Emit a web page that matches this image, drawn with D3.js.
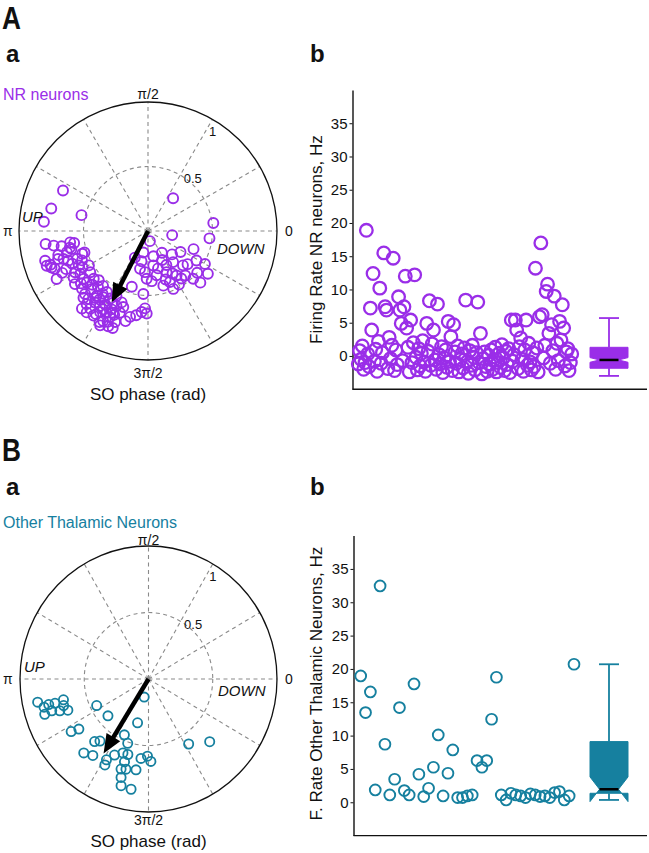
<!DOCTYPE html>
<html><head><meta charset="utf-8">
<script src="https://cdn.jsdelivr.net/npm/d3@7"></script>
<style>
body{margin:0;background:#fff}
svg{display:block}
text{font-family:"Liberation Sans",Arial,Helvetica,sans-serif;fill:#111}
</style>
</head><body>
<svg id="chart" width="649" height="853"></svg>
<script>
// ---------------- DATA ----------------
const nrColor = "#9a2ee8";
const otColor = "#16809f";

// Polar A: NR neurons, [SO phase (deg), normalized rho]
const nrPolar = [
 [154.5,0.73],[166.9,0.77],[174.9,0.81],[166.6,0.53],[52.5,0.32],[7.0,0.51],[350.4,0.19],[353.2,0.48],
 [187.2,0.80],[188.8,0.74],[188.3,0.61],[189.2,0.58],[196.1,0.83],[199.1,0.80],[200.7,0.80],[197.3,0.73],
 [198.3,0.69],[200.4,0.66],[203.4,0.64],[206.5,0.60],[209.5,0.65],[212.3,0.62],[198.7,0.52],[207.7,0.80],
 [199.1,0.54],[194.7,0.65],[193.3,0.61],[198.9,0.83],
 [221.2,0.68],[220.1,0.62],[225.8,0.63],[225.0,0.54],[230.7,0.55],[231.6,0.64],[228.7,0.70],[229.6,0.79],
 [233.4,0.75],[237.3,0.69],[243.1,0.71],[245.0,0.67],[247.2,0.63],[249.7,0.59],[243.5,0.78],[247.3,0.80],
 [250.1,0.75],[243.1,0.82],[251.0,0.67],[258.2,0.68],[265.5,0.63],[269.1,0.64],[267.8,0.60],[253.8,0.45],
 [265.8,0.49],[237.2,0.78],[233.0,0.79],[240.8,0.60],[244.1,0.56],[234.8,0.65],[236.0,0.57],
 [280.6,0.08],[257.7,0.17],[302.6,0.20],[315.8,0.26],[327.1,0.30],[338.3,0.38],[257.9,0.24],[278.7,0.27],
 [298.3,0.30],[308.9,0.31],[265.8,0.32],[281.0,0.35],[294.3,0.35],[302.7,0.41],[305.0,0.45],[293.2,0.43],
 [285.7,0.44],[293.6,0.49],[328.6,0.44],[329.9,0.51],[319.7,0.50],[324.5,0.57],[315.4,0.57],[313.4,0.51],
 [274.2,0.39],[282.2,0.20],[243.7,0.23],[258.1,0.30],[268.4,0.37],[315.5,0.38],
 [221.3,0.56],[225.0,0.69],[233.4,0.69],[240.2,0.70],[246.2,0.73],[239.5,0.73],[246.9,0.69],[215.5,0.55],
 [201.4,0.59],[216.6,0.62],[210.2,0.53],
 [228,0.58],[232,0.66],[236,0.62],[240,0.66],[244,0.62],[248,0.70],[252,0.62],[238,0.76],
 [242,0.80],[230,0.74],[226,0.72],[234,0.60],[246,0.77],[250,0.80],[256,0.72],[262,0.66],
 [224,0.60],[218,0.66],[216,0.70],[212,0.68],[205,0.70],[204,0.56],[209,0.58],[195,0.72],
 [192,0.62],[190,0.68],[202,0.78],[206,0.74],
 [290,0.40],[300,0.38],[310,0.45],[296,0.25],[320,0.40],[285,0.30],[300,0.48]
];
const nrMean = [243, 0.62];   // mean phase (deg), resultant length

// Polar B: other thalamic neurons
const otPolar = [
 [191.4,0.88],[194.6,0.84],[194.1,0.75],[193.3,0.68],[200.5,0.67],[199.1,0.73],[198.2,0.85],[197.6,0.79],
 [196.8,0.69],[193.9,0.80],
 [213.3,0.72],[214.8,0.66],[206.3,0.45],[221.3,0.42],[228.3,0.63],[231.0,0.60],[245.9,0.46],[251.5,0.51],
 [255.5,0.34],[256.2,0.14],[233.0,0.72],[227.8,0.75],[241.7,0.69],[242.3,0.73],[245.2,0.63],[250.3,0.59],
 [254.2,0.59],[253.3,0.65],[261.9,0.69],[252.5,0.71],[255.5,0.70],[253.9,0.77],[264.4,0.60],[269.2,0.58],
 [271.7,0.62],[255.1,0.83],[260.7,0.84],[302.6,0.58],[315.3,0.67]
];
const otMean = [238, 0.66];

// Firing rates (Hz), in neuron order
const nrRates = [
 -1.2,0.8,-0.5,1.5,-2.0,-1.0,18.9,0.3,-1.6,7.2,
 3.9,12.4,-0.8,1.0,-2.3,2.2,10.2,-1.1,0.5,15.5,
 7.4,6.9,-1.9,2.8,-0.4,1.6,14.7,-2.2,0.9,-1.3,
 8.9,6.9,4.9,-0.7,7.4,12.0,4.2,1.3,-2.4,5.4,
 -1.0,2.0,12.2,-0.2,-2.1,1.1,-1.5,0.4,2.3,-0.9,
 -2.3,4.9,0.7,8.3,-1.4,1.8,3.9,-0.6,-2.0,7.8,
 0.2,-1.2,1.4,-2.5,-0.3,0.9,-1.7,5.2,-0.8,2.9,
 -2.2,4.7,0.6,-1.1,1.5,-2.4,-0.5,0.3,-1.8,1.2,
 8.4,-0.9,-2.6,0.8,-1.4,1.6,-0.2,-2.1,0.5,8.1,
 -1.0,3.4,-2.7,-0.4,0.6,-1.6,-2.3,0.1,-1.2,0.9,
 -2.0,-0.6,1.3,-2.4,-1.0,0.4,-1.7,1.7,-0.3,-2.2,
 0.7,-1.3,1.1,-2.5,5.4,-0.8,0.2,5.4,3.9,-1.9,
 1.4,2.7,-0.5,-2.3,0.9,5.4,-1.4,1.9,-0.9,-2.1,
 0.5,-1.6,13.2,1.2,-2.4,5.9,17.0,6.2,-0.3,1.6,
 9.7,10.8,3.4,-1.1,4.7,0.8,9.0,-2.0,1.9,-0.7,
 5.2,2.4,7.7,4.2,-1.5,0.6,1.1,-2.2,-1.0,0.3
];
const otRates = [
 18.95,13.45,16.55,1.85,32.45,8.7,1.1,3.45,14.2,1.75,
 1.1,17.75,4.2,0.85,2.1,5.25,10.1,0.95,4.35,7.85,
 0.7,0.7,0.95,1.1,6.25,5.25,6.25,12.45,18.75,1.1,
 0.35,1.35,1.1,0.95,0.7,1.25,1.1,0.85,0.95,0.7,
 1.45,1.6,0.35,0.95,20.7
];
// Notched box summaries: [whiskerLow, q1, notchLow, median, notchHigh, q3, whiskerHigh]
const nrBox = [-3.0, -1.85, -0.95, -0.6, -0.25, 1.3, 5.7];
const otBox = [0.35, 1.35, 0.1, 1.95, 3.8, 9.1, 20.7];

const yTicks = [0,5,10,15,20,25,30,35];
const phaseLabels = ["0","π/2","π","3π/2"];

// ---------------- DRAW ----------------
const svg = d3.select("#chart");
const FONT = '"Liberation Sans",Arial,Helvetica,sans-serif';

function txt(x,y,s,opt={}) {
  const t = svg.append("text").attr("x",x).attr("y",y).text(s)
    .style("font-size",(opt.size||14)+"px");
  if (opt.anchor) t.attr("text-anchor",opt.anchor);
  if (opt.weight) t.style("font-weight",opt.weight);
  if (opt.italic) t.style("font-style","italic");
  if (opt.fill) t.style("fill",opt.fill);
  if (opt.transform) t.attr("transform",opt.transform);
  return t;
}

function polar(cfg) {
  const g = svg.append("g");
  const rX = d3.scaleLinear().domain([0,1]).range([0,cfg.rx]);
  const rY = d3.scaleLinear().domain([0,1]).range([0,cfg.ry]);
  const toRad = d3.scaleLinear().domain([0,360]).range([0,2*Math.PI]);
  const px = (deg,r) => cfg.cx + rX(r)*Math.cos(toRad(deg));
  const py = (deg,r) => cfg.cy - rY(r)*Math.sin(toRad(deg));
  g.selectAll("line.spoke").data(d3.range(0,360,30)).join("line")
    .attr("x1",cfg.cx).attr("y1",cfg.cy)
    .attr("x2",d=>px(d,1)).attr("y2",d=>py(d,1))
    .attr("stroke","#8a8a8a").attr("stroke-width",1.1).attr("stroke-dasharray","4,3.5");
  g.append("ellipse").attr("cx",cfg.cx).attr("cy",cfg.cy).attr("rx",rX(0.5)).attr("ry",rY(0.5))
    .attr("fill","none").attr("stroke","#8a8a8a").attr("stroke-width",1.1).attr("stroke-dasharray","4,3.5");
  g.append("ellipse").attr("cx",cfg.cx).attr("cy",cfg.cy).attr("rx",rX(1)).attr("ry",rY(1))
    .attr("fill","none").attr("stroke","#111").attr("stroke-width",1.3);
  txt(px(57,0.92),py(57,0.92)+5,"1",{size:13,anchor:"middle"});
  txt(px(50,0.54),py(50,0.54)+5,"0.5",{size:13,anchor:"middle"});
  g.selectAll("circle.pt").data(cfg.points).join("circle")
    .attr("cx",d=>px(d[0],d[1])).attr("cy",d=>py(d[0],d[1]))
    .attr("r",cfg.pr).attr("fill","none").attr("stroke",cfg.color).attr("stroke-width",cfg.sw);
  const tx = px(cfg.mean[0],cfg.mean[1]), ty = py(cfg.mean[0],cfg.mean[1]);
  const dx = tx-cfg.cx, dy = ty-cfg.cy, L = Math.hypot(dx,dy);
  const ux = dx/L, uy = dy/L, head = 19, hw = 8;
  const bx = tx-ux*head, by = ty-uy*head;
  g.append("line").attr("x1",cfg.cx).attr("y1",cfg.cy).attr("x2",bx+ux*2).attr("y2",by+uy*2)
    .attr("stroke","#000").attr("stroke-width",4.5);
  g.append("path").attr("d",`M${tx},${ty}L${bx-uy*hw},${by+ux*hw}L${bx+uy*hw},${by-ux*hw}Z`)
    .attr("fill","#000");
  txt(cfg.cx, cfg.top, phaseLabels[1], {size:14,anchor:"middle"});
  txt(cfg.cx, cfg.bottom, phaseLabels[3], {size:14,anchor:"middle"});
  txt(3, cfg.cy+5, phaseLabels[2], {size:14});
  txt(285, cfg.cy+5, phaseLabels[0], {size:14});
  txt(cfg.cx, cfg.bottom+22, "SO phase (rad)", {size:17,anchor:"middle"});
  txt(cfg.upX, cfg.upY, "UP", {size:15,italic:true});
  txt(cfg.downX, cfg.downY, "DOWN", {size:15,italic:true});
}

function scatter(cfg) {
  const g = svg.append("g");
  const y = d3.scaleLinear().domain([-5,40]).range([cfg.yBottom, cfg.yTop]);
  const x = d3.scaleLinear().domain([0, cfg.values.length-1]).range([cfg.x0, cfg.x1]);
  const ax = g.append("g").attr("transform",`translate(${cfg.axisX},0)`)
    .call(d3.axisLeft(y).tickValues(yTicks).tickSize(3).tickSizeOuter(0).tickPadding(2));
  ax.select(".domain").attr("stroke","#111").attr("stroke-width",1.4);
  ax.selectAll(".tick line").attr("stroke","#111");
  ax.selectAll(".tick text").style("font-size","15px").style("font-family",FONT).attr("fill","#111");
  g.append("line").attr("x1",cfg.axisX).attr("x2",647).attr("y1",cfg.yBottom).attr("y2",cfg.yBottom)
    .attr("stroke","#111").attr("stroke-width",1.4);
  g.selectAll("circle.pt").data(cfg.values).join("circle")
    .attr("cx",(d,i)=>x(i)).attr("cy",d=>y(d)).attr("r",cfg.pr)
    .attr("fill","none").attr("stroke",cfg.color).attr("stroke-width",cfg.sw);
  const [wl,q1,nl,md,nh,q3,wh] = cfg.box;
  const c = cfg.boxX, w = 38, L = c-w/2, R = c+w/2, iL = c-w/4, iR = c+w/4, cap = 10;
  g.append("line").attr("x1",c).attr("x2",c).attr("y1",y(q3)).attr("y2",y(wh)).attr("stroke",cfg.color).attr("stroke-width",1.8);
  g.append("line").attr("x1",c).attr("x2",c).attr("y1",y(q1)).attr("y2",y(wl)).attr("stroke",cfg.color).attr("stroke-width",1.8);
  g.append("line").attr("x1",c-cap).attr("x2",c+cap).attr("y1",y(wh)).attr("y2",y(wh)).attr("stroke",cfg.color).attr("stroke-width",1.8);
  g.append("line").attr("x1",c-cap).attr("x2",c+cap).attr("y1",y(wl)).attr("y2",y(wl)).attr("stroke",cfg.color).attr("stroke-width",1.8);
  g.append("path").attr("d",
    `M${L},${y(q1)}L${L},${y(nl)}L${iL},${y(md)}L${L},${y(nh)}L${L},${y(q3)}L${R},${y(q3)}L${R},${y(nh)}L${iR},${y(md)}L${R},${y(nl)}L${R},${y(q1)}Z`)
    .attr("fill",cfg.color).attr("stroke",cfg.color).attr("stroke-width",1);
  g.append("line").attr("x1",iL).attr("x2",iR).attr("y1",y(md)).attr("y2",y(md)).attr("stroke","#000").attr("stroke-width",2.5);
  const cy = (cfg.yTop+cfg.yBottom)/2+cfg.labelDy;
  txt(cfg.labelX, cy, cfg.label, {size:17,anchor:"middle",transform:`rotate(-90,${cfg.labelX},${cy})`});
}

txt(2,29,"A",{size:32,weight:"bold",transform:"translate(2,0) scale(0.82,1) translate(-2,0)"});
txt(6,62,"a",{size:24,weight:"bold"});
txt(310,62,"b",{size:24,weight:"bold"});
txt(3,100,"NR neurons",{size:16,fill:nrColor});
txt(2,461,"B",{size:32,weight:"bold",transform:"translate(2,0) scale(0.82,1) translate(-2,0)"});
txt(6,495,"a",{size:24,weight:"bold"});
txt(310,495,"b",{size:24,weight:"bold"});
txt(3,528,"Other Thalamic Neurons",{size:16,fill:otColor});

polar({cx:148,cy:231,rx:129,ry:129,points:nrPolar,mean:nrMean,color:nrColor,pr:5,sw:1.9,
       top:99,bottom:378,upX:22,upY:222,downX:217,downY:254});
polar({cx:148.5,cy:679,rx:128.5,ry:133,points:otPolar,mean:otMean,color:otColor,pr:4.6,sw:1.8,
       top:545,bottom:825,upX:24,upY:672,downX:218,downY:696});

scatter({values:nrRates,color:nrColor,pr:6.3,sw:2.3,axisX:352.5,yTop:90,yBottom:389.2,x0:358.3,x1:571.7,
         box:nrBox,boxX:609,label:"Firing Rate NR neurons, Hz",labelX:322,labelDy:0});
scatter({values:otRates,color:otColor,pr:5.4,sw:1.9,axisX:353.5,yTop:535.6,yBottom:835.6,x0:360.7,x1:574,
         box:otBox,boxX:609,label:"F. Rate Other Thalamic Neurons, Hz",labelX:322,labelDy:-2});
</script>
</body></html>
